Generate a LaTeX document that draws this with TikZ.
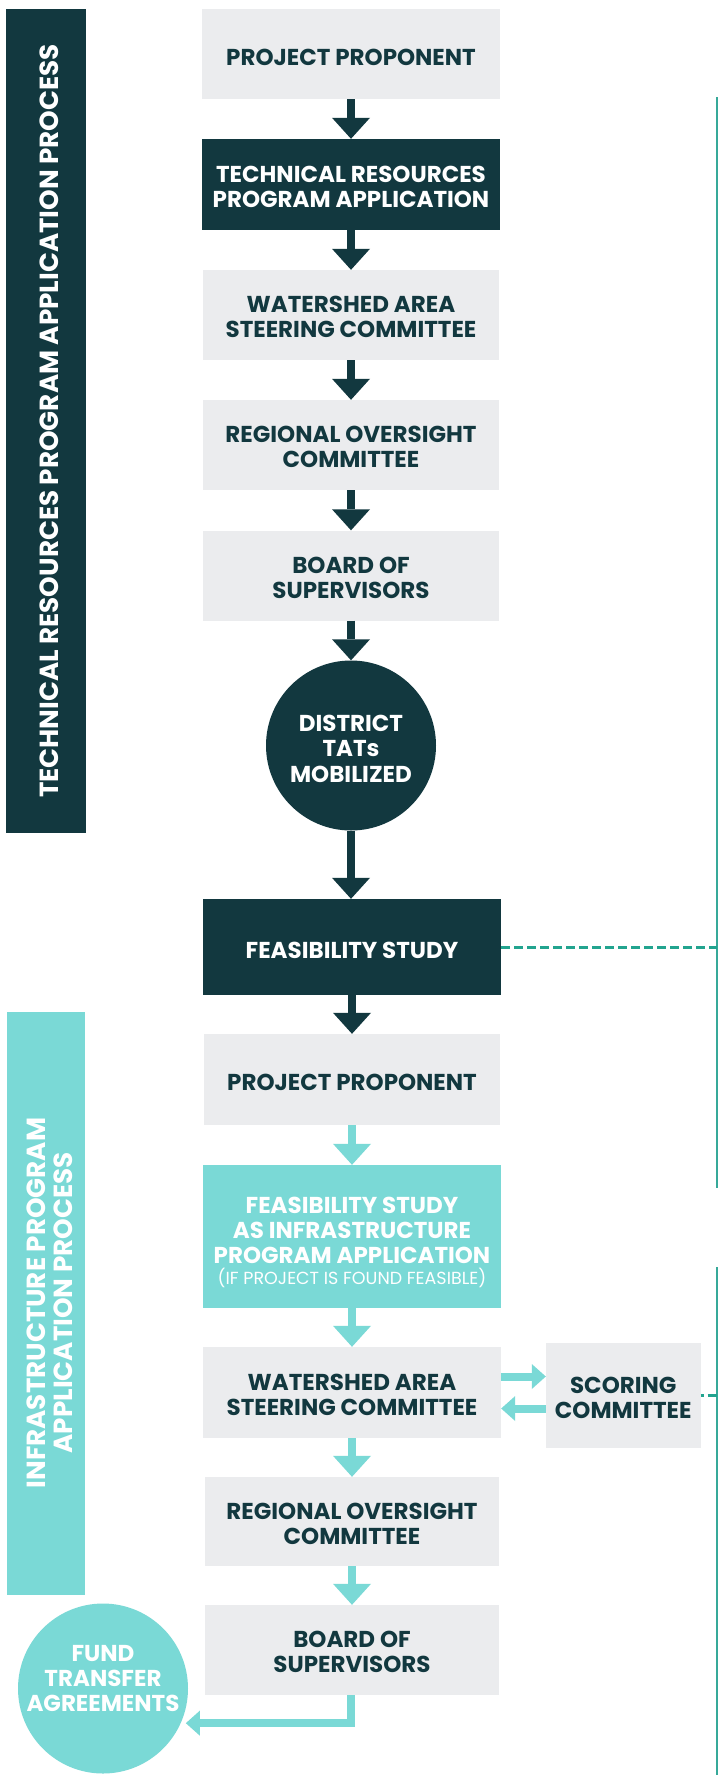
\documentclass[tikz,border=0pt]{standalone}
\usepackage{fontspec}
\setmainfont{Poppins}
\usetikzlibrary{arrows.meta,calc}
\definecolor{dk}{HTML}{12383F}
\definecolor{tl}{HTML}{7AD9D6}
\definecolor{gb}{HTML}{EBECEE}
\definecolor{gl}{HTML}{36A999}
\definecolor{dsh}{HTML}{22A48F}
\newcommand{\Tup}{\rule{0pt}{21pt}}
\tikzset{
  box/.style={rectangle, minimum width=298pt, minimum height=90pt, inner sep=0pt,
    align=center, font=\bfseries\fontsize{23}{25}\selectfont, text=dk, fill=gb},
  onebox/.style={box, execute at begin node={\rule{0pt}{22.5pt}}},
  darkbox/.style={box, fill=dk, text=white},
  tealbox/.style={box, fill=tl, text=white},
  circ/.style={circle, minimum size=170pt, inner sep=0pt, align=center,
    font=\bfseries\fontsize{23}{25.5}\selectfont, text=white},
  ctext/.style={align=center, inner sep=0pt, font=\bfseries\fontsize{23}{25}\selectfont, text=white},
  darr/.style={draw=dk, line width=8pt, -{Triangle[width=38pt,length=21pt,line width=0pt]}},
  tarr/.style={draw=tl, line width=8pt, -{Triangle[width=38pt,length=21pt,line width=0pt]}},
  tarrh/.style={draw=tl, line width=8pt, -{Triangle[width=25pt,length=14pt,line width=0pt]}},
  sidebar/.style={inner sep=0pt, rotate=90},
  titletext/.style={rotate=90, inner sep=0pt, align=center, text=white,
    font=\bfseries\fontsize{26.2}{26.5}\selectfont},
  rline/.style={draw=gl, line width=2pt},
  dashl/.style={draw=dsh, line width=3pt, dash pattern=on 9pt off 4pt}
}
\begin{document}
\begin{tikzpicture}[x=1pt,y=-1pt]
\useasboundingbox (0,0) rectangle (718,1775);
\fill[white] (0,0) rectangle (718,1775);

% side bars
\node[sidebar, fill=dk, minimum width=824pt, minimum height=80pt] (bar1) at (46,421) {};
\node[titletext] (t1) at (49.3,421) {TECHNICAL RESOURCES PROGRAM APPLICATION PROCESS};
\node[sidebar, fill=tl, minimum width=583pt, minimum height=78pt] (bar2) at (46,1303.5) {};
\node[titletext] (t2) at (49.9,1303) {INFRASTRUCTURE PROGRAM\\APPLICATION PROCESS};

% main column
\node[onebox] (pp1) at (351,54) {PROJECT PROPONENT};
\node[darkbox, minimum height=91pt] (trp) at (351,184.5) {\Tup TECHNICAL RESOURCES\\PROGRAM APPLICATION};
\node[box, minimum width=296pt] (was1) at (351,315) {\Tup WATERSHED AREA\\STEERING COMMITTEE};
\node[box, minimum width=296pt] (roc1) at (351,445) {\Tup REGIONAL OVERSIGHT\\COMMITTEE};
\node[box, minimum width=296pt] (bos1) at (351,575.5) {\Tup BOARD OF\\SUPERVISORS};
\node[circ, fill=dk] (dist) at (351,745.5) {\rule{0pt}{23pt}DISTRICT\\TATs\\MOBILIZED};
\node[onebox, fill=dk, text=white, minimum height=96pt] (fs) at (352,947) {FEASIBILITY STUDY};
\node[onebox, minimum width=296pt, minimum height=91pt] (pp2) at (352,1079.5) {PROJECT PROPONENT};
\node[tealbox, minimum height=143pt] (fsia) at (352,1236.5) {\rule{0pt}{27.5pt}FEASIBILITY STUDY\\AS INFRASTRUCTURE\\PROGRAM APPLICATION\\[-4pt]{\mdseries\fontsize{17.5}{20}\selectfont (IF PROJECT IS FOUND FEASIBLE)}};
\node[box, minimum height=91pt] (was2) at (352,1392.5) {\Tup WATERSHED AREA\\STEERING COMMITTEE};
\node[box, minimum width=154.5pt, minimum height=105pt] (score) at (623.25,1395.5) {\Tup SCORING\\COMMITTEE};
\node[box, minimum width=294pt, minimum height=89pt] (roc2) at (352,1521.5) {\Tup REGIONAL OVERSIGHT\\COMMITTEE};
\node[box, minimum width=294pt] (bos2) at (352,1650) {\Tup BOARD OF\\SUPERVISORS};
\node[circ, fill=tl] (fund) at (103,1688.5) {};
\node[ctext] (fundt) at ([yshift=10pt]fund.center) {FUND\\TRANSFER\\AGREEMENTS};

% arrows
\draw[darr] (pp1.south) -- (trp.north);
\draw[darr] (trp.south) -- (was1.north);
\draw[darr] (was1.south) -- (roc1.north);
\draw[darr] (roc1.south) -- (bos1.north);
\draw[darr] (bos1.south) -- (dist.north);
\draw[darr] (dist.south) -- (dist.south |- fs.north);
\draw[darr] (fs.south) -- (pp2.north);
\draw[tarr] (pp2.south) -- (fsia.north);
\draw[tarr] (fsia.south) -- (was2.north);
\draw[tarr] (was2.south) -- (roc2.north);
\draw[tarr] (roc2.south) -- (bos2.north);
\draw[tarrh] ([yshift=16pt]was2.east) -- ([yshift=16pt]was2.east -| score.west);
\draw[tarrh] ([yshift=-16pt]was2.east -| score.west) -- ([yshift=-16pt]was2.east);
\draw[tarrh] ([xshift=-1.5pt]bos2.south) |- ([xshift=5pt]fund.-24);

% right rails
\coordinate (r1top) at (716.5,97);
\coordinate (r1bot) at (716.5,1188);
\coordinate (r2top) at (716.5,1267);
\coordinate (r2bot) at (716.5,1775);
\draw[rline] (r1top) -- (r1bot);
\draw[rline] (r2top) -- (r2bot);
\draw[dashl] (fs.east) -- (fs.east -| r1top);
\draw[dashl, dash phase=6pt] (score.east) -- (score.east -| r2top);
\end{tikzpicture}
\end{document}
